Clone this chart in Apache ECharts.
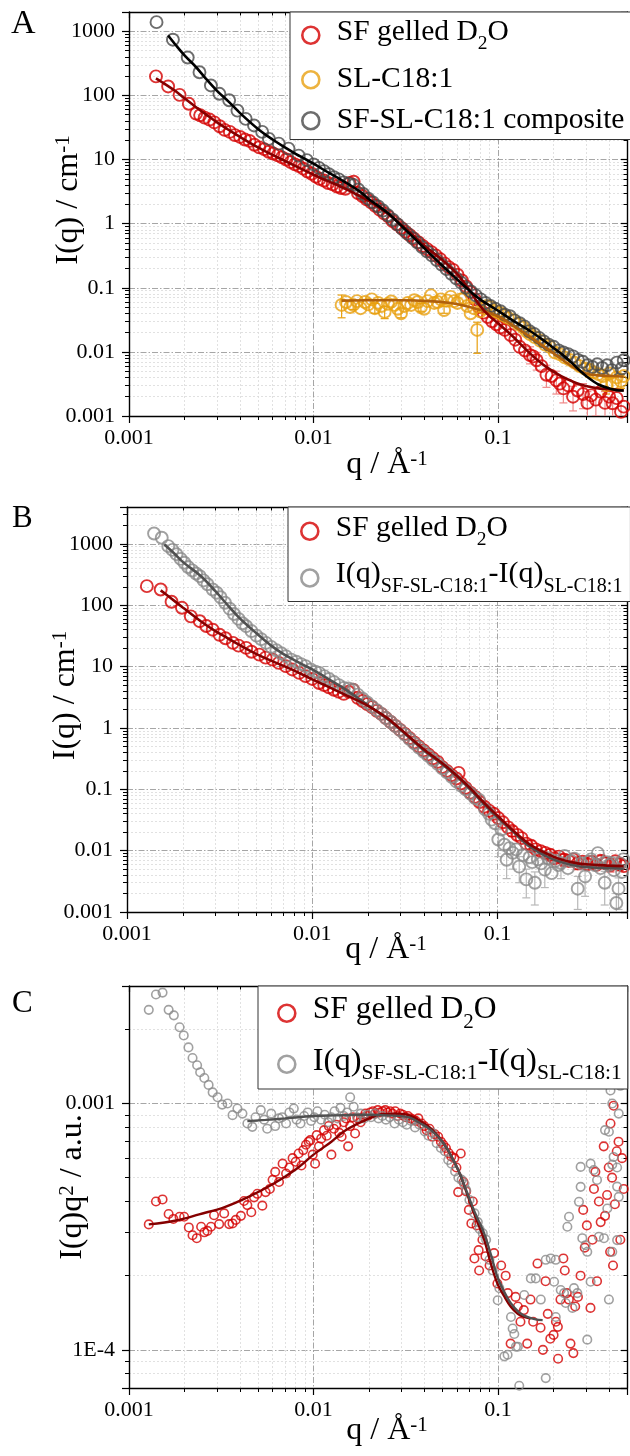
<!DOCTYPE html>
<html>
<head>
<meta charset="utf-8">
<script src="https://cdn.jsdelivr.net/npm/echarts@6.0.0/dist/echarts.min.js"></script>
<style>
html,body{margin:0;padding:0;background:#ffffff;}
#chart{width:630px;height:1456px;}
</style>
</head>
<body>
<div id="chart"></div>
<script>
// ---------------- tick labels ----------------
const X_TICK_LABELS = ['0.001', '0.01', '0.1'];
const Y_TICK_LABELS_AB = ['0.001', '0.01', '0.1', '1', '10', '100', '1000'];
const Y_TICK_LABELS_C = ['1E-4', '0.001'];

// ---------------- series names ----------------
const NAME_SF = 'SF gelled D2O';
const NAME_SL = 'SL-C18:1';
const NAME_COMP = 'SF-SL-C18:1 composite';
const NAME_DIFF = 'I(q)SF-SL-C18:1-I(q)SL-C18:1';

// ---------------- Panel A : I(q) vs q ----------------
const A_SF = [[0.00140,198],[0.00163,138],[0.00188,102],[0.00211,74],[0.00231,52],[0.00243,49],[0.00257,45],[0.00273,42],[0.00290,38],[0.00310,33],[0.00330,29],[0.00352,27],[0.00375,24],[0.00400,22.5],[0.00425,20.5],[0.00450,19.5],[0.00478,17],[0.00508,15.5],[0.00540,14.5],[0.00572,13.2],[0.00605,12.4],[0.00640,11.6],[0.00675,10.8],[0.00712,10.0],[0.00752,9.1],[0.00793,8.4],[0.00835,7.9],[0.00880,7.2],[0.00928,6.5],[0.00978,6.0],[0.0103,5.4],[0.0108,5.0],[0.0114,4.7],[0.0120,4.3],[0.0127,4.1],[0.0134,3.8],[0.0141,3.6],[0.0149,3.5],[0.0157,4.3],[0.0165,4.5],[0.0174,3.0],[0.0184,2.7],[0.0194,2.4],[0.0205,2.15],[0.0216,1.9],[0.0228,1.65],[0.0241,1.45],[0.0254,1.3],[0.0268,1.1],[0.0283,0.98],[0.0299,0.86],[0.0315,0.75],[0.0333,0.66],[0.0351,0.58],[0.0371,0.51],[0.0391,0.45],[0.0413,0.40],[0.0436,0.36],[0.0460,0.32],[0.0486,0.28],[0.0513,0.24],[0.0541,0.21],[0.0571,0.19],[0.0603,0.16],[0.0637,0.13],[0.0672,0.105],[0.0709,0.085],[0.0749,0.066],[0.0790,0.050],[0.0834,0.041],[0.0880,0.035],[0.0929,0.030],[0.0980,0.027],[0.103,0.024],[0.109,0.022],[0.117,0.0183],[0.124,0.0155],[0.131,0.0120],[0.140,0.0105],[0.149,0.0089],[0.155,0.0085],[0.162,0.0074],[0.172,0.0060],[0.183,0.0044],[0.195,0.0042],[0.207,0.0036],[0.216,0.0032],[0.226,0.0027],[0.240,0.0030],[0.255,0.0020],[0.270,0.0025],[0.289,0.0022],[0.305,0.0016],[0.320,0.0021],[0.339,0.0018],[0.360,0.0024],[0.380,0.0016],[0.400,0.0020],[0.418,0.00158],[0.440,0.0019],[0.464,0.00116],[0.480,0.0014]];
const A_SF_ERR = [[0.149,0.0065,0.012],[0.162,0.0052,0.0098],[0.183,0.0028,0.0062],[0.207,0.0022,0.0050],[0.226,0.0016,0.0040],[0.255,0.0012,0.0029],[0.289,0.0013,0.0032],[0.305,0.0009,0.0024],[0.339,0.0010,0.0027],[0.380,0.0009,0.0024],[0.418,0.0009,0.0024],[0.464,0.0007,0.0017]];
const A_SF_FIT = [[0.0014,185],[0.0016,145],[0.0018,115],[0.002,90],[0.0023,66],[0.0026,51],[0.003,38],[0.0035,28.5],[0.004,22.5],[0.005,15.5],[0.006,11.8],[0.007,9.5],[0.008,7.9],[0.009,6.7],[0.010,5.8],[0.012,4.6],[0.014,3.8],[0.016,3.15],[0.018,2.65],[0.02,2.25],[0.025,1.45],[0.03,0.95],[0.035,0.64],[0.04,0.45],[0.05,0.27],[0.06,0.165],[0.07,0.092],[0.08,0.052],[0.09,0.036],[0.1,0.028],[0.12,0.0175],[0.15,0.0093],[0.18,0.006],[0.22,0.0042],[0.28,0.0031],[0.35,0.0027],[0.42,0.0026],[0.48,0.0025]];

const A_SL = [[0.0142,0.054],[0.0150,0.060],[0.0158,0.050],[0.0164,0.054],[0.0172,0.062],[0.0180,0.048],[0.0190,0.060],[0.0198,0.055],[0.0207,0.066],[0.0215,0.048],[0.0224,0.058],[0.0233,0.052],[0.0243,0.042],[0.0253,0.056],[0.0264,0.061],[0.0275,0.054],[0.0286,0.047],[0.0298,0.040],[0.0311,0.052],[0.0324,0.058],[0.0338,0.054],[0.0352,0.064],[0.0367,0.060],[0.0382,0.050],[0.0398,0.047],[0.0415,0.062],[0.0433,0.076],[0.0451,0.058],[0.047,0.060],[0.049,0.066],[0.051,0.045],[0.053,0.063],[0.0554,0.072],[0.0578,0.062],[0.0602,0.058],[0.0628,0.066],[0.0654,0.068],[0.0682,0.052],[0.071,0.040],[0.074,0.048],[0.0771,0.022],[0.080,0.043],[0.0838,0.048],[0.087,0.052],[0.091,0.050],[0.095,0.044],[0.0988,0.042],[0.103,0.040],[0.107,0.037],[0.113,0.034],[0.121,0.031],[0.129,0.027],[0.137,0.024],[0.143,0.021],[0.149,0.019],[0.158,0.017],[0.169,0.015],[0.180,0.013],[0.191,0.012],[0.203,0.0098],[0.216,0.0092],[0.230,0.0082],[0.245,0.0075],[0.260,0.0068],[0.277,0.0060],[0.295,0.0055],[0.313,0.0052],[0.330,0.0048],[0.350,0.0045],[0.370,0.0042],[0.385,0.0030],[0.400,0.0046],[0.419,0.0032],[0.440,0.0040],[0.464,0.0035],[0.480,0.0042]];
const A_SL_ERR = [[0.0142,0.034,0.077],[0.0164,0.046,0.063],[0.0215,0.040,0.057],[0.0243,0.033,0.051],[0.0298,0.034,0.047],[0.0382,0.043,0.057],[0.051,0.040,0.051],[0.0771,0.0095,0.029],[0.313,0.0040,0.0065],[0.385,0.0022,0.0040],[0.419,0.0025,0.0040],[0.464,0.0027,0.0045]];
const A_SL_FIT = [[0.0142,0.063],[0.02,0.064],[0.03,0.064],[0.043,0.062],[0.055,0.058],[0.065,0.053],[0.08,0.045],[0.1,0.036],[0.12,0.026],[0.15,0.017],[0.2,0.0095],[0.25,0.006],[0.3,0.0046],[0.35,0.0043],[0.42,0.0042],[0.48,0.0041]];

const A_COMP = [[0.00141,1390],[0.00173,740],[0.00208,390],[0.00241,230],[0.00278,143],[0.00309,106],[0.00349,84],[0.00387,58],[0.00429,43],[0.00476,34],[0.00527,27],[0.00573,21],[0.00648,17.7],[0.00732,14.8],[0.00831,11.5],[0.0092,9.8],[0.0100,8.4],[0.0107,7.4],[0.0114,6.6],[0.0121,5.9],[0.0129,5.3],[0.0137,4.9],[0.0146,4.4],[0.0155,4.2],[0.0165,4.0],[0.0175,3.4],[0.0186,2.9],[0.0198,2.45],[0.0210,2.15],[0.0224,1.85],[0.0238,1.6],[0.0253,1.35],[0.0269,1.15],[0.0286,0.97],[0.0304,0.82],[0.0323,0.70],[0.0343,0.60],[0.0365,0.51],[0.0388,0.43],[0.0412,0.37],[0.0438,0.32],[0.0466,0.27],[0.0495,0.23],[0.0526,0.195],[0.0559,0.165],[0.0594,0.14],[0.0631,0.12],[0.0671,0.10],[0.0713,0.088],[0.0758,0.076],[0.0806,0.066],[0.0856,0.058],[0.091,0.052],[0.0967,0.047],[0.103,0.043],[0.109,0.038],[0.116,0.036],[0.123,0.031],[0.131,0.028],[0.139,0.025],[0.148,0.021],[0.157,0.019],[0.167,0.0165],[0.177,0.0145],[0.188,0.013],[0.200,0.012],[0.213,0.0105],[0.226,0.0098],[0.240,0.0092],[0.255,0.0085],[0.271,0.0075],[0.288,0.0070],[0.306,0.0062],[0.325,0.0058],[0.345,0.0064],[0.367,0.0056],[0.390,0.0062],[0.414,0.0052],[0.440,0.0068],[0.468,0.0055],[0.480,0.0074]];
const A_COMP_FIT = [[0.00163,860],[0.0018,600],[0.002,420],[0.0023,280],[0.0026,185],[0.003,118],[0.0035,78],[0.004,53],[0.005,30],[0.006,20.5],[0.007,15.5],[0.008,12.3],[0.009,10.2],[0.010,8.6],[0.012,6.3],[0.014,4.9],[0.016,3.9],[0.018,3.1],[0.02,2.4],[0.025,1.5],[0.03,0.92],[0.035,0.6],[0.04,0.41],[0.05,0.22],[0.06,0.135],[0.07,0.09],[0.08,0.066],[0.09,0.053],[0.1,0.044],[0.12,0.031],[0.15,0.021],[0.18,0.0145],[0.2,0.0115],[0.225,0.0089],[0.25,0.0068],[0.28,0.005],[0.3,0.0042],[0.35,0.0031],[0.4,0.0027],[0.46,0.0025],[0.48,0.0025]];

// ---------------- Panel B : I(q) vs q ----------------
const B_SF = [[0.00128,205],[0.00152,181],[0.00174,114],[0.00198,91],[0.00221,66],[0.00247,55],[0.00268,46],[0.0029,40],[0.00316,33],[0.0034,29],[0.00373,24.4],[0.0040,22],[0.0044,20.2],[0.0047,17.5],[0.00518,15.7],[0.0056,14],[0.00611,13],[0.0066,11.5],[0.0072,10.2],[0.0078,9],[0.0085,7.9],[0.0092,7],[0.0100,6.3],[0.0109,5.4],[0.0116,5.0],[0.0123,4.6],[0.0131,4.2],[0.0139,3.9],[0.0148,3.6],[0.0157,3.9],[0.0166,4.2],[0.0176,3.1],[0.0187,2.75],[0.0198,2.45],[0.021,2.2],[0.0223,1.9],[0.0236,1.7],[0.025,1.45],[0.0265,1.25],[0.0281,1.08],[0.0298,0.93],[0.0316,0.8],[0.0335,0.68],[0.0355,0.58],[0.0376,0.5],[0.0399,0.43],[0.0423,0.37],[0.0448,0.32],[0.0475,0.28],[0.0503,0.23],[0.0533,0.2],[0.0565,0.17],[0.0599,0.15],[0.0617,0.185],[0.0635,0.125],[0.0673,0.105],[0.0713,0.088],[0.0756,0.075],[0.0801,0.062],[0.0849,0.052],[0.090,0.045],[0.0954,0.040],[0.101,0.034],[0.107,0.029],[0.114,0.024],[0.120,0.021],[0.128,0.018],[0.135,0.016],[0.143,0.013],[0.152,0.012],[0.161,0.0105],[0.171,0.0098],[0.181,0.0092],[0.192,0.0086],[0.203,0.0075],[0.215,0.0080],[0.228,0.0071],[0.242,0.0068],[0.256,0.0072],[0.271,0.0062],[0.288,0.0066],[0.305,0.0060],[0.323,0.0065],[0.342,0.0059],[0.363,0.0068],[0.384,0.0062],[0.407,0.0058],[0.432,0.0067],[0.457,0.0060],[0.480,0.0056]];
const B_SF_ERR = [[0.120,0.017,0.025],[0.152,0.0095,0.0145],[0.192,0.0068,0.0105],[0.228,0.0056,0.0088],[0.271,0.0049,0.0078],[0.323,0.0051,0.0082],[0.363,0.0053,0.0085],[0.407,0.0045,0.0074],[0.457,0.0047,0.0076]];
const B_SF_FIT = [[0.00152,175],[0.0017,135],[0.002,92],[0.0025,55],[0.003,38],[0.0035,29],[0.004,23],[0.005,16],[0.006,12.5],[0.007,10.3],[0.008,8.6],[0.01,6.2],[0.012,4.8],[0.015,3.5],[0.02,2.3],[0.025,1.5],[0.03,0.95],[0.04,0.45],[0.05,0.27],[0.06,0.17],[0.07,0.11],[0.08,0.072],[0.09,0.05],[0.1,0.037],[0.12,0.022],[0.15,0.0125],[0.2,0.008],[0.25,0.0065],[0.3,0.006],[0.4,0.0057],[0.48,0.0056]];
const B_DIFF = [[0.0014,1480],[0.00154,1260],[0.00167,920],[0.00176,800],[0.00185,680],[0.00195,570],[0.00204,493],[0.00214,420],[0.00225,370],[0.00236,330],[0.00247,298],[0.00259,255],[0.00272,220],[0.0029,181],[0.00305,160],[0.0032,135],[0.00338,110],[0.00358,88],[0.00378,72],[0.0040,60],[0.0042,51],[0.0044,45.6],[0.0047,38],[0.0050,32],[0.0053,28],[0.00563,24.4],[0.0060,21],[0.0064,18.5],[0.0068,16.5],[0.0072,14.8],[0.0077,13],[0.0082,12],[0.0087,11],[0.0092,10.2],[0.0098,9],[0.0104,8.3],[0.0109,7.9],[0.0116,7.0],[0.0123,6.3],[0.0131,5.6],[0.0139,5.0],[0.0148,4.5],[0.0157,4.4],[0.0166,4.2],[0.0176,3.5],[0.0187,3.0],[0.0198,2.6],[0.021,2.25],[0.0223,1.95],[0.0236,1.7],[0.025,1.45],[0.0265,1.25],[0.0281,1.07],[0.0298,0.92],[0.0316,0.78],[0.0335,0.66],[0.0355,0.56],[0.0376,0.48],[0.0399,0.41],[0.0423,0.35],[0.0448,0.30],[0.0475,0.26],[0.0503,0.22],[0.0533,0.19],[0.0565,0.16],[0.0599,0.135],[0.0635,0.115],[0.0673,0.10],[0.0713,0.085],[0.0756,0.072],[0.0793,0.068],[0.0857,0.047],[0.0899,0.040],[0.093,0.032],[0.097,0.028],[0.101,0.0152],[0.105,0.0221],[0.109,0.0125],[0.112,0.0071],[0.116,0.011],[0.121,0.0092],[0.126,0.0105],[0.131,0.0055],[0.137,0.0085],[0.143,0.0034],[0.149,0.0078],[0.154,0.0065],[0.159,0.0030],[0.165,0.0072],[0.172,0.0062],[0.180,0.0049],[0.188,0.0075],[0.196,0.0043],[0.205,0.0068],[0.213,0.0058],[0.220,0.0063],[0.230,0.0082],[0.240,0.0052],[0.250,0.0068],[0.260,0.0074],[0.271,0.0024],[0.283,0.0062],[0.297,0.0038],[0.310,0.0066],[0.320,0.0072],[0.335,0.0058],[0.348,0.0091],[0.360,0.0052],[0.379,0.0030],[0.390,0.0065],[0.400,0.0058],[0.413,0.0063],[0.425,0.0048],[0.438,0.0014],[0.450,0.0024],[0.460,0.0062],[0.470,0.0045],[0.478,0.0072]];
const B_DIFF_ERR = [[0.101,0.008,0.022],[0.112,0.0035,0.0105],[0.121,0.005,0.013],[0.131,0.003,0.008],[0.143,0.0017,0.005],[0.159,0.0013,0.0045],[0.180,0.0025,0.0073],[0.220,0.0035,0.009],[0.271,0.0011,0.0038],[0.297,0.0018,0.0056],[0.379,0.0013,0.0046],[0.438,0.0008,0.0020],[0.450,0.0011,0.0036]];
const B_DIFF_FIT = [[0.00159,980],[0.0018,700],[0.002,510],[0.0025,300],[0.003,170],[0.0035,100],[0.004,64],[0.0045,46],[0.005,35],[0.006,22],[0.007,16],[0.008,12.8],[0.009,10.6],[0.01,9],[0.012,6.5],[0.015,4.3],[0.02,2.35],[0.025,1.45],[0.03,0.93],[0.04,0.43],[0.05,0.26],[0.06,0.165],[0.07,0.105],[0.08,0.068],[0.09,0.047],[0.1,0.035],[0.12,0.021],[0.15,0.0115],[0.2,0.0072],[0.25,0.0059],[0.3,0.0054],[0.4,0.0052],[0.48,0.0051]];

// ---------------- Panel C : I(q)q^2 vs q ----------------
const C_SF = [[0.00128,0.000323],[0.0014,0.0004],[0.00152,0.000408],[0.00164,0.000356],[0.00174,0.00034],[0.00188,0.000347],[0.00199,0.000347],[0.00211,0.000314],[0.00221,0.000292],[0.00233,0.000284],[0.00246,0.000316],[0.00256,0.0003],[0.00266,0.000304],[0.00278,0.000316],[0.00289,0.000352],[0.00308,0.000324],[0.00328,0.000358],[0.00349,0.000324],[0.00364,0.000326],[0.00379,0.000337],[0.00404,0.00035],[0.0042,0.000402],[0.00438,0.000387],[0.0046,0.000362],[0.00476,0.000416],[0.00496,0.00043],[0.00528,0.000385],[0.0055,0.000437],[0.0058,0.00045],[0.006,0.00049],[0.0062,0.000528],[0.0065,0.00048],[0.0068,0.00057],[0.0071,0.00052],[0.0074,0.00055],[0.0077,0.0006],[0.008,0.00058],[0.0083,0.000627],[0.0086,0.00056],[0.0088,0.000647],[0.0091,0.00068],[0.0094,0.0007],[0.0096,0.00071],[0.0099,0.00062],[0.0102,0.00057],[0.0104,0.000744],[0.0107,0.00067],[0.011,0.00072],[0.0114,0.00078],[0.0118,0.00074],[0.0121,0.00081],[0.0125,0.00062],[0.0129,0.00079],[0.0133,0.00082],[0.0138,0.00076],[0.0142,0.000733],[0.0146,0.00084],[0.015,0.00087],[0.0154,0.00067],[0.0158,0.00081],[0.0163,0.00088],[0.0168,0.000756],[0.0174,0.00087],[0.018,0.00084],[0.0186,0.00088],[0.0191,0.00091],[0.0197,0.00089],[0.0203,0.00092],[0.021,0.00093],[0.0216,0.00091],[0.0223,0.00094],[0.0229,0.00092],[0.0237,0.00093],[0.0245,0.00094],[0.0252,0.00092],[0.026,0.00093],[0.0268,0.00091],[0.0277,0.00093],[0.0286,0.00089],[0.0295,0.00091],[0.0305,0.0009],[0.0315,0.00088],[0.0325,0.00089],[0.0336,0.00087],[0.0347,0.00086],[0.0358,0.00085],[0.037,0.00087],[0.0385,0.00083],[0.0398,0.00081],[0.041,0.00078],[0.0425,0.00079],[0.044,0.000733],[0.0455,0.00075],[0.0474,0.000733],[0.049,0.0007],[0.0505,0.00068],[0.0522,0.00066],[0.054,0.00063],[0.0558,0.00061],[0.058,0.0006],[0.0595,0.00055],[0.0608,0.000437],[0.0628,0.000627],[0.065,0.00048],[0.0672,0.00044],[0.0695,0.00037],[0.0717,0.000326],[0.073,0.0004],[0.0745,0.000235],[0.0765,0.00032],[0.0785,0.000254],[0.079,0.00021],[0.0823,0.00028],[0.0855,0.00024],[0.09,0.00022],[0.0951,0.000247],[0.0992,0.000186],[0.104,0.00022],[0.11,0.0002],[0.113,0.00017],[0.117,0.000106],[0.1245,0.000164],[0.128,0.00015],[0.1323,0.00013],[0.138,0.000145],[0.1439,0.000106],[0.15,0.00016],[0.155,0.00013],[0.1636,0.000224],[0.17,0.000123],[0.1751,0.0001],[0.181,0.00019],[0.186,0.00014],[0.192,0.000111],[0.2,0.000115],[0.206,0.00013],[0.211,0.000124],[0.2116,0.000092],[0.218,0.00016],[0.226,0.000235],[0.23,0.00021],[0.236,0.00017],[0.242,0.00016],[0.247,0.000106],[0.256,0.000097],[0.262,0.00015],[0.271,0.000164],[0.28,0.0002],[0.2895,0.00037],[0.295,0.00026],[0.303,0.00032],[0.317,0.000148],[0.325,0.00028],[0.331,0.00045],[0.337,0.000528],[0.344,0.00019],[0.352,0.0004],[0.36,0.00033],[0.374,0.00067],[0.38,0.00035],[0.39,0.000425],[0.398,0.00055],[0.405,0.00025],[0.407,0.00083],[0.415,0.0005],[0.42,0.00022],[0.423,0.00098],[0.43,0.00039],[0.44,0.00064],[0.45,0.0007],[0.46,0.00028],[0.47,0.0006],[0.48,0.00045]];
const C_SF_FIT = [[0.00128,0.000323],[0.0018,0.000335],[0.0024,0.000355],[0.0033,0.00038],[0.0045,0.00042],[0.006,0.00047],[0.008,0.00054],[0.01,0.00062],[0.0125,0.0007],[0.015,0.00078],[0.0191,0.000856],[0.0234,0.000905],[0.028,0.00091],[0.0325,0.0009],[0.038,0.00085],[0.0434,0.00079],[0.05,0.0007],[0.0559,0.00061],[0.062,0.00052],[0.0672,0.00044],[0.075,0.00035],[0.0841,0.00028],[0.092,0.00022],[0.0992,0.000186],[0.108,0.000165],[0.117,0.00015],[0.128,0.00014],[0.1383,0.000136],[0.15,0.000134]];
const C_DIFF = [[0.00128,0.0024],[0.0014,0.00277],[0.00152,0.00282],[0.00164,0.0024],[0.00175,0.00228],[0.00188,0.00204],[0.00198,0.00189],[0.0021,0.00169],[0.00221,0.00153],[0.00234,0.00143],[0.00243,0.00134],[0.00256,0.00127],[0.0027,0.00119],[0.00284,0.00111],[0.00302,0.00106],[0.0032,0.00099],[0.00342,0.001],[0.00364,0.000897],[0.00387,0.000954],[0.00412,0.00091],[0.00438,0.00083],[0.00466,0.000804],[0.00485,0.00088],[0.00518,0.00094],[0.0054,0.00086],[0.00561,0.00079],[0.0059,0.00091],[0.0062,0.00081],[0.0065,0.00087],[0.00676,0.00088],[0.0071,0.00083],[0.0074,0.00092],[0.00782,0.000954],[0.0081,0.00086],[0.0085,0.00083],[0.0089,0.00089],[0.0093,0.00092],[0.0097,0.00085],[0.0101,0.00088],[0.0105,0.00093],[0.011,0.00086],[0.0115,0.0009],[0.012,0.00084],[0.0125,0.00088],[0.013,0.00093],[0.0135,0.00087],[0.014,0.00096],[0.0146,0.00089],[0.0152,0.00092],[0.0158,0.00106],[0.0165,0.00097],[0.0172,0.00088],[0.018,0.00091],[0.0188,0.00087],[0.0196,0.0009],[0.0205,0.00088],[0.0215,0.00091],[0.0225,0.00087],[0.0236,0.00089],[0.0247,0.00086],[0.0259,0.00088],[0.0275,0.00083],[0.029,0.00086],[0.0305,0.00084],[0.032,0.00082],[0.0338,0.00085],[0.0355,0.0008],[0.0375,0.00082],[0.0401,0.00077],[0.042,0.00074],[0.044,0.00076],[0.0465,0.00069],[0.049,0.00066],[0.0515,0.00064],[0.0537,0.00059],[0.0559,0.00057],[0.0585,0.00053],[0.061,0.0005],[0.0635,0.00049],[0.0657,0.00047],[0.0672,0.000445],[0.070,0.000406],[0.0746,0.000358],[0.0777,0.00033],[0.0793,0.00031],[0.0827,0.000297],[0.0862,0.00028],[0.0898,0.000232],[0.0936,0.00021],[0.0996,0.000159],[0.1017,0.000178],[0.1082,0.0000941],[0.1127,0.0000955],[0.1175,0.000136],[0.12,0.000122],[0.1225,0.000116],[0.125,0.000103],[0.128,0.000103],[0.1303,0.0000715],[0.1387,0.000167],[0.1506,0.000195],[0.1602,0.000195],[0.1705,0.00016],[0.1814,0.000232],[0.1814,0.0000768],[0.193,0.000235],[0.2013,0.000189],[0.2055,0.000232],[0.2055,0.000136],[0.2187,0.000175],[0.228,0.00017],[0.2327,0.000155],[0.2376,0.000316],[0.2425,0.000347],[0.253,0.000148],[0.258,0.000178],[0.269,0.00017],[0.2746,0.000399],[0.2804,0.000553],[0.2804,0.000459],[0.2862,0.000284],[0.2983,0.000266],[0.3045,0.00025],[0.3045,0.00011],[0.3175,0.000189],[0.3175,0.00057],[0.33,0.000537],[0.344,0.000489],[0.352,0.000288],[0.375,0.000284],[0.38,0.00078],[0.391,0.000375],[0.399,0.00016],[0.399,0.000768],[0.407,0.00113],[0.416,0.00025],[0.416,0.001],[0.416,0.000565],[0.423,0.000607],[0.442,0.000279],[0.442,0.00055],[0.442,0.00046],[0.451,0.000418],[0.451,0.00091],[0.46,0.00118]];
const C_DIFF_FIT = [[0.00438,0.000848],[0.0055,0.000858],[0.007,0.00087],[0.0083,0.00088],[0.01,0.00089],[0.013,0.000895],[0.0191,0.0009],[0.025,0.000895],[0.0325,0.00088],[0.038,0.00083],[0.0434,0.00078],[0.05,0.0007],[0.0559,0.00061],[0.062,0.00052],[0.0672,0.000445],[0.075,0.00036],[0.0841,0.000297],[0.092,0.00024],[0.0992,0.000198],[0.108,0.000172],[0.117,0.000155],[0.13,0.000142],[0.1439,0.000136],[0.16,0.000133],[0.1745,0.000132]];

// ---------------- styling ----------------
const FONT = "'Liberation Serif', 'DejaVu Serif', serif";
const RED = '#d40000', RED_FIT = '#850000', RED_ERR = '#ef8a8a', RED_ERR_B = '#e04040';
const ORANGE = '#e8a010', ORANGE_FIT = '#b0600c', ORANGE_ERR = '#e8a010';
const DARK = '#484848', DARK_FIT = '#000000';
const GRAY = '#8a8a8a', GRAY_FIT = '#505050', GRAY_ERR = '#b8b8b8';

function tickFormatter(labels) {
  return function (v) {
    for (const s of labels) {
      if (Math.abs(Math.log10(parseFloat(s)) - Math.log10(v)) < 1e-6) return s;
    }
    return '';
  };
}

const MAJOR_GRID = { show: true, lineStyle: { color: '#8f8f8f', width: 0.8, type: [6, 2, 1.5, 2] } };
const MINOR_GRID = { show: true, lineStyle: { color: '#dadada', width: 0.8, type: [2, 2] } };

function nameRich(fs, sfs) {
  return {
    n: { fontFamily: FONT, fontSize: fs, lineHeight: fs, verticalAlign: 'bottom', color: '#000' },
    p: { fontFamily: FONT, fontSize: sfs, lineHeight: sfs, verticalAlign: 'top', color: '#000' }
  };
}

function bottomX(g, nameGap) {
  return {
    type: 'log', logBase: 10, gridIndex: g, position: 'bottom', min: 0.001, max: 0.5,
    axisLine: { show: true, onZero: false, lineStyle: { color: '#000', width: 1.4 } },
    axisTick: { show: true, inside: false, length: 7, lineStyle: { color: '#000', width: 1.2 } },
    minorTick: { show: true, splitNumber: 9, length: 4, lineStyle: { color: '#000', width: 1 } },
    axisLabel: { show: true, formatter: tickFormatter(X_TICK_LABELS), fontFamily: FONT, fontSize: 22, color: '#000', margin: 11 },
    splitLine: MAJOR_GRID, minorSplitLine: MINOR_GRID,
    name: '{n|q / Å}{p|-1}', nameLocation: 'middle', nameGap: nameGap, nameMoveOverlap: false,
    nameTextStyle: { rich: nameRich(32, 21), padding: [0, 0, 0, 18] }
  };
}
function topX(g) {
  return {
    type: 'log', logBase: 10, gridIndex: g, position: 'top', min: 0.001, max: 0.5,
    axisLine: { show: true, onZero: false, lineStyle: { color: '#000', width: 1.4 } },
    axisTick: { show: true, inside: true, length: 6, lineStyle: { color: '#000', width: 1.2 } },
    minorTick: { show: true, splitNumber: 9, length: 3.5, lineStyle: { color: '#000', width: 1 } },
    axisLabel: { show: false }, splitLine: { show: false }, minorSplitLine: { show: false }
  };
}
function leftY(g, min, max, labels, name, nameGap, pad) {
  return {
    type: 'log', logBase: 10, gridIndex: g, position: 'left', min: min, max: max,
    axisLine: { show: true, onZero: false, lineStyle: { color: '#000', width: 1.4 } },
    axisTick: { show: true, inside: false, length: 7, lineStyle: { color: '#000', width: 1.2 } },
    minorTick: { show: true, splitNumber: 9, length: 4, lineStyle: { color: '#000', width: 1 } },
    axisLabel: { show: true, formatter: tickFormatter(labels), fontFamily: FONT, fontSize: 22, color: '#000', margin: 14 },
    splitLine: MAJOR_GRID, minorSplitLine: MINOR_GRID,
    name: name, nameLocation: 'middle', nameGap: nameGap, nameMoveOverlap: false,
    nameTextStyle: { rich: nameRich(32, 21), padding: pad }
  };
}
function rightY(g, min, max) {
  return {
    type: 'log', logBase: 10, gridIndex: g, position: 'right', min: min, max: max,
    axisLine: { show: true, onZero: false, lineStyle: { color: '#000', width: 1.4 } },
    axisTick: { show: true, inside: true, length: 6, lineStyle: { color: '#000', width: 1.2 } },
    minorTick: { show: true, splitNumber: 9, length: 3.5, lineStyle: { color: '#000', width: 1 } },
    axisLabel: { show: false }, splitLine: { show: false }, minorSplitLine: { show: false }
  };
}

function scatter(name, data, g, color, size, bw) {
  return {
    type: 'scatter', name: name, data: data, xAxisIndex: 2 * g, yAxisIndex: 2 * g,
    symbol: 'circle', symbolSize: size, silent: true, clip: true, z: 3,
    itemStyle: { color: 'rgba(0,0,0,0)', borderColor: color, borderWidth: bw },
    emphasis: { disabled: true }
  };
}
function fit(name, data, g, color, w) {
  return {
    type: 'line', name: name, data: data, xAxisIndex: 2 * g, yAxisIndex: 2 * g,
    showSymbol: false, symbol: 'none', smooth: 0.35, silent: true, clip: true, z: 5,
    lineStyle: { color: color, width: w }, emphasis: { disabled: true }
  };
}
function errbars(name, data, g, color) {
  return {
    type: 'custom', name: name, data: data, xAxisIndex: 2 * g, yAxisIndex: 2 * g,
    encode: { x: 0, y: [1, 2] }, silent: true, clip: true, z: 2,
    renderItem: function (params, api) {
      const p1 = api.coord([api.value(0), api.value(1)]);
      const p2 = api.coord([api.value(0), api.value(2)]);
      const st = { stroke: color, lineWidth: 1.2 };
      return {
        type: 'group', children: [
          { type: 'line', shape: { x1: p1[0], y1: p1[1], x2: p2[0], y2: p2[1] }, style: st },
          { type: 'line', shape: { x1: p1[0] - 4, y1: p1[1], x2: p1[0] + 4, y2: p1[1] }, style: st },
          { type: 'line', shape: { x1: p2[0] - 4, y1: p2[1], x2: p2[0] + 4, y2: p2[1] }, style: st }
        ]
      };
    }
  };
}

const LEGEND_TEXT = {};
LEGEND_TEXT[NAME_SF] = '{n|SF gelled D}{s|2}{n|O}';
LEGEND_TEXT[NAME_SL] = '{n|SL-C18:1}';
LEGEND_TEXT[NAME_COMP] = '{n|SF-SL-C18:1 composite}';
LEGEND_TEXT[NAME_DIFF] = '{m|I(q)}{t|SF-SL-C18:1}{m|-I(q)}{t|SL-C18:1}';

function legendRich(fs, sfs, fs2, sfs2) {
  return {
    n: { fontFamily: FONT, fontSize: fs, lineHeight: fs + 1, verticalAlign: 'top', color: '#000' },
    s: { fontFamily: FONT, fontSize: sfs, lineHeight: fs + 7, verticalAlign: 'bottom', color: '#000' },
    m: { fontFamily: FONT, fontSize: fs2, lineHeight: fs2 + 1, verticalAlign: 'top', color: '#000' },
    t: { fontFamily: FONT, fontSize: sfs2, lineHeight: fs2 + 7, verticalAlign: 'bottom', color: '#000' }
  };
}
function legendItem(name, color) {
  return { name: name, icon: 'circle', itemStyle: { color: 'rgba(0,0,0,0)', borderColor: color, borderWidth: 2.6 } };
}
function legend(items, left, top, gap, rich, pad) {
  return {
    data: items, orient: 'vertical', left: left, top: top, itemWidth: 42, itemHeight: 17, itemGap: gap,
    padding: pad, backgroundColor: '#ffffff', borderColor: '#333', borderWidth: 1, borderRadius: 0,
    selectedMode: false, z: 20,
    formatter: function (n) { return LEGEND_TEXT[n]; },
    textStyle: { fontFamily: FONT, fontSize: 29, color: '#000', rich: rich }
  };
}

const option = {
  animation: false,
  backgroundColor: '#ffffff',
  grid: [
    { left: 129, top: 12, width: 500, height: 404 },
    { left: 127, top: 507, width: 500, height: 405 },
    { left: 129, top: 986, width: 500, height: 402 }
  ],
  xAxis: [bottomX(0, 33), topX(0), bottomX(1, 22), topX(1), bottomX(2, 27), topX(2)],
  yAxis: [
    leftY(0, 0.001, 2000, Y_TICK_LABELS_AB, '{n|I(q) / cm}{p|-1}', 44, [0, 0, 0, 28]), rightY(0, 0.001, 2000),
    leftY(1, 0.001, 4000, Y_TICK_LABELS_AB, '{n|I(q) / cm}{p|-1}', 45, [0, 0, 0, 28]), rightY(1, 0.001, 4000),
    leftY(2, 0.00007, 0.003, Y_TICK_LABELS_C, '{n|I(q)q}{p|2}{n| / a.u.}', 40, [0, 0, 0, 0]), rightY(2, 0.00007, 0.003)
  ],
  legend: [
    legend([legendItem(NAME_SF, RED), legendItem(NAME_SL, ORANGE), legendItem(NAME_COMP, DARK)], 290, 12, 11,
      legendRich(29.5, 19.5, 30, 20), [5, 8, 4, 11]),
    legend([legendItem(NAME_SF, RED), legendItem(NAME_DIFF, GRAY)], 288, 507, 10,
      legendRich(29.5, 19.5, 30, 20), [6, 8, 5, 12]),
    legend([legendItem(NAME_SF, RED), legendItem(NAME_DIFF, GRAY)], 258, 986, 12,
      legendRich(31.5, 21, 32.5, 21.5), [8, 6, 5, 19])
  ],
  graphic: [
    { type: 'text', left: 11, top: 7, style: { text: 'A', font: '34px ' + FONT, fill: '#000' } },
    { type: 'text', left: 12, top: 503, style: { text: 'B', font: '31px ' + FONT, fill: '#000' } },
    { type: 'text', left: 12, top: 988, style: { text: 'C', font: '31px ' + FONT, fill: '#000' } }
  ],
  series: [
    // Panel A
    errbars('errA_sf', A_SF_ERR, 0, RED_ERR),
    errbars('errA_sl', A_SL_ERR, 0, ORANGE_ERR),
    scatter(NAME_SF, A_SF, 0, RED, 12, 1.9),
    scatter(NAME_SL, A_SL, 0, ORANGE, 12, 1.9),
    scatter(NAME_COMP, A_COMP, 0, DARK, 12, 1.9),
    fit('fitA_sl', A_SL_FIT, 0, ORANGE_FIT, 2.6),
    fit('fitA_sf', A_SF_FIT, 0, RED_FIT, 2.6),
    fit('fitA_comp', A_COMP_FIT, 0, DARK_FIT, 2.6),
    // Panel B
    errbars('errB_diff', B_DIFF_ERR, 1, GRAY_ERR),
    scatter(NAME_SF, B_SF, 1, RED, 12, 1.9),
    scatter(NAME_DIFF, B_DIFF, 1, GRAY, 12, 1.9),
    errbars('errB_sf', B_SF_ERR, 1, RED_ERR_B),
    fit('fitB_diff', B_DIFF_FIT, 1, GRAY_FIT, 2.6),
    fit('fitB_sf', B_SF_FIT, 1, RED_FIT, 2.6),
    // Panel C
    scatter(NAME_SF, C_SF, 2, RED, 8.5, 1.6),
    scatter(NAME_DIFF, C_DIFF, 2, GRAY, 8.5, 1.6),
    fit('fitC_sf', C_SF_FIT, 2, RED_FIT, 2.4),
    fit('fitC_diff', C_DIFF_FIT, 2, GRAY_FIT, 2.4)
  ]
};

const chart = echarts.init(document.getElementById('chart'), null, { renderer: 'canvas' });
chart.setOption(option);
</script>
</body>
</html>
